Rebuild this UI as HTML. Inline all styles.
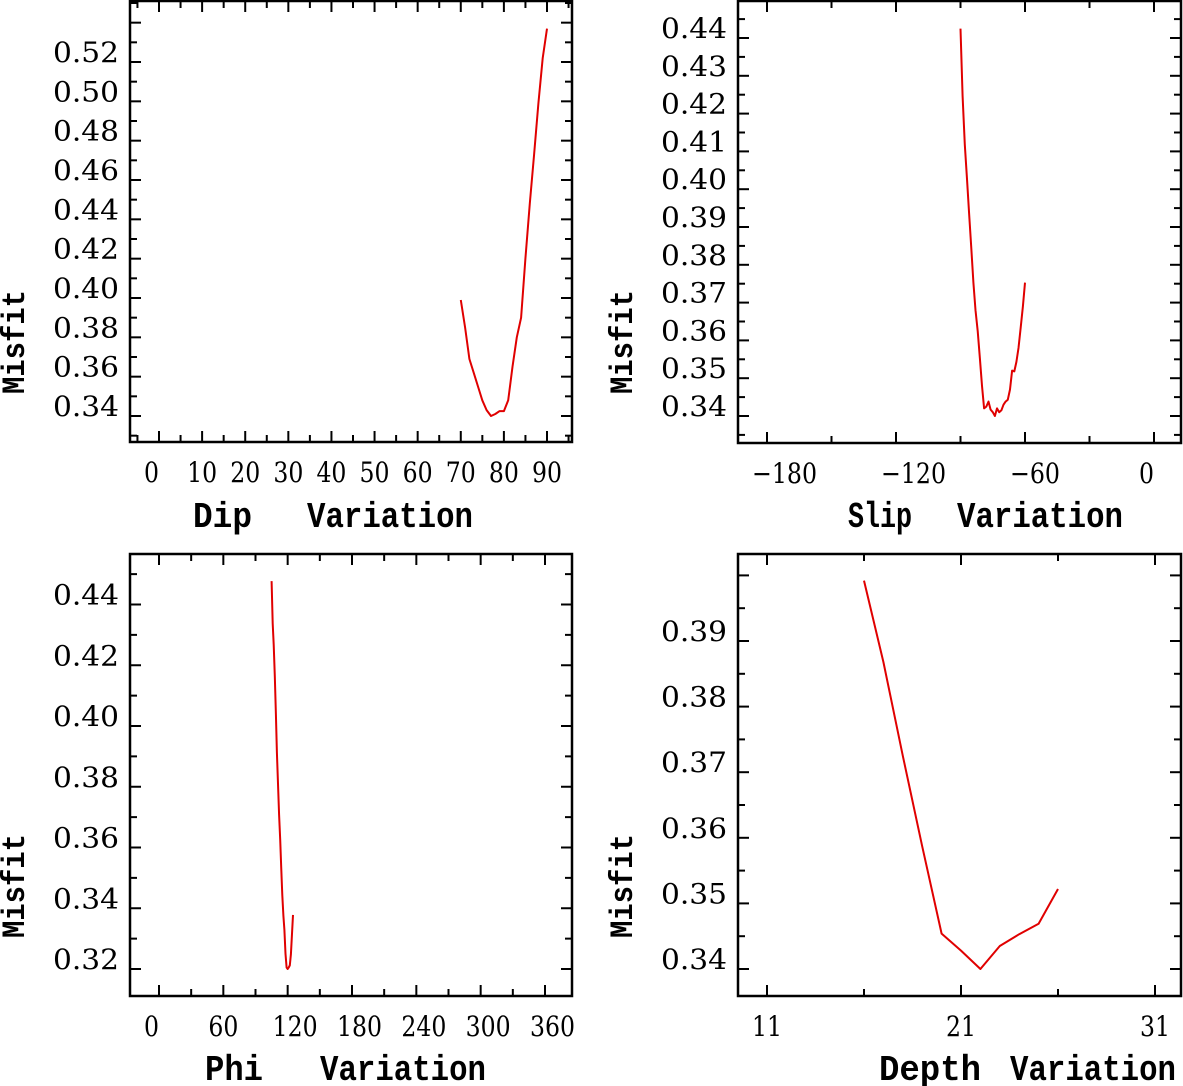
<!DOCTYPE html>
<html><head><meta charset="utf-8"><style>
html,body{margin:0;padding:0;background:#fff;}
svg{display:block;}
.tl{font-family:"DejaVu Serif","Liberation Serif",serif;font-size:28px;fill:#000;}
.ti{font-family:"Liberation Mono","DejaVu Sans Mono",monospace;font-weight:bold;font-size:36px;fill:#000;}
</style></head><body>
<svg id="fig" width="1183" height="1086" viewBox="0 0 1183 1086" xmlns="http://www.w3.org/2000/svg"></svg>
<script>
// Dip panel data
const dipX = [70,71,72,73,74,75,76,77,78,79,80,81,82,83,84,85,86,87,88,89,90];
const dipY = [0.399,0.385,0.369,0.362,0.355,0.348,0.343,0.340,0.341,0.3425,0.3425,0.348,0.365,0.380,0.390,0.420,0.448,0.473,0.499,0.522,0.537];
const dipXTicks = [0,10,20,30,40,50,60,70,80,90];
const dipYTicks = [0.34,0.36,0.38,0.40,0.42,0.44,0.46,0.48,0.50,0.52];
// Slip panel data
const slipX = [-90,-89,-88,-87,-86,-85,-84,-83,-82,-81,-80,-79,-78,-77,-76,-75,-74,-73,-72,-71,-70,-69,-68,-67,-66,-65,-64,-63,-62,-61,-60];
const slipY = [0.4425,0.4246,0.4118,0.4027,0.3936,0.3844,0.3753,0.368,0.3625,0.3552,0.348,0.342,0.3425,0.3438,0.3417,0.341,0.340,0.342,0.341,0.3415,0.343,0.3438,0.3443,0.347,0.352,0.3518,0.3543,0.358,0.3634,0.369,0.3753];
const slipXTicks = [-180,-120,-60,0];
const slipYTicks = [0.34,0.35,0.36,0.37,0.38,0.39,0.40,0.41,0.42,0.43,0.44];
// Phi panel data
const phiX = [105,106,107,108,109,110,111,112,113,114,115,116,117,118,119,120,121,122,123,124,125];
const phiY = [0.4477,0.4337,0.4268,0.4165,0.4039,0.3913,0.3810,0.3707,0.3626,0.3535,0.3443,0.3375,0.3329,0.325,0.3205,0.320,0.3205,0.3212,0.3248,0.3316,0.3378];
const phiXTicks = [0,60,120,180,240,300,360];
const phiYTicks = [0.32,0.34,0.36,0.38,0.40,0.42,0.44];
// Depth panel data
const depthX = [16,17,18,19,20,21,22,23,24,25,26];
const depthY = [0.3992,0.3868,0.3725,0.3587,0.3454,0.3428,0.340,0.3435,0.3453,0.3469,0.3522];
const depthXTicks = [11,21,31];
const depthYTicks = [0.34,0.35,0.36,0.37,0.38,0.39];

const NS="http://www.w3.org/2000/svg";
const svg=document.getElementById('fig');
function mk(tag,attrs,parent){const e=document.createElementNS(NS,tag);for(const k in attrs)e.setAttribute(k,attrs[k]);(parent||svg).appendChild(e);return e;}

function panel(o){
  const g=mk('g',{});
  
  
  const sx=v=>o.x0px+(v-o.x0v)*(o.x1px-o.x0px)/(o.x1v-o.x0v);
  const sy=v=>o.y0px+(v-o.y0v)*(o.y1px-o.y0px)/(o.y1v-o.y0v);
  const fr=mk('rect',{x:o.L,y:o.T,width:o.R-o.L,height:o.B-o.T,fill:'none',stroke:'#000','stroke-width':2.5},g);
  
  
  const xs=o.xTicks, xstep=xs[1]-xs[0];
  for(let i=-4;i<=xs.length*2+4;i++){
    const v=xs[0]+i*xstep/2, px=sx(v); if(px<=o.L+1||px>=o.R-1)continue;
    const len=(i%2===0)?11:7;
    mk('line',{x1:px,y1:o.B,x2:px,y2:o.B-len,stroke:'#000','stroke-width':2},g);
    mk('line',{x1:px,y1:o.T,x2:px,y2:o.T+len,stroke:'#000','stroke-width':2},g);
  }
  xs.forEach(v=>{
    const s=(v<0?'\u2212'+(-v):String(v));
    const w=String(Math.abs(v)).length*15+(v<0?20:0);
    const t=mk('text',{x:sx(v)-15,y:o.B+40,'text-anchor':'start',class:'tl',textLength:w,lengthAdjust:'spacingAndGlyphs'},g);
    t.textContent=s;
    
    
  });
  const ys=o.yTicks, ystep=ys[1]-ys[0];
  for(let i=-2;i<ys.length*2+4;i++){
    const v=ys[0]+i*ystep/2, py=sy(v); if(py<=o.T+1||py>=o.B-1)continue;
    const len=(i%2===0)?11:7;
    mk('line',{x1:o.L,y1:py,x2:o.L+len,y2:py,stroke:'#000','stroke-width':2},g);
    mk('line',{x1:o.R,y1:py,x2:o.R-len,y2:py,stroke:'#000','stroke-width':2},g);
  }
  ys.forEach(v=>{
    const t=mk('text',{x:o.L-11,y:sy(v),'text-anchor':'end',class:'tl',textLength:66,lengthAdjust:'spacingAndGlyphs'},g);
    t.textContent=v.toFixed(2);
    
    
  });
  const yt=mk('text',{x:0,y:0,'text-anchor':'middle',class:'ti',style:'font-size:32px',transform:`translate(${o.ytx},${o.yty}) rotate(-90)`,textLength:104,lengthAdjust:'spacingAndGlyphs'},g);
  yt.textContent='Misfit';
  
  
  const w1=mk('text',{x:o.w1x,y:o.tb,class:'ti',textLength:o.w1w,lengthAdjust:'spacingAndGlyphs'},g);
  w1.textContent=o.word;
  
  
  const w2=mk('text',{x:o.w2x,y:o.tb,class:'ti',textLength:166,lengthAdjust:'spacingAndGlyphs'},g);
  w2.textContent='Variation';
  
  
  const pts=o.xs.map((x,i)=>sx(x).toFixed(1)+','+sy(o.ys[i]).toFixed(1)).join(' ');
  const pl=mk('polyline',{points:pts,fill:'none',stroke:'#e00000','stroke-width':2,'stroke-linejoin':'round'},g);
  
  
}

panel({name:'dip',L:130,T:1,R:572,B:442,x0v:0,x0px:159,x1v:90,x1px:547,y0v:0.34,y0px:416,y1v:0.52,y1px:62,
  xTicks:dipXTicks,yTicks:dipYTicks,xs:dipX,ys:dipY,ytx:24,yty:342,word:'Dip',w1x:193,w1w:59,w2x:307,tb:527});
panel({name:'slip',L:738,T:1,R:1181,B:443,x0v:-180,x0px:767,x1v:0,x1px:1154,y0v:0.34,y0px:416,y1v:0.44,y1px:38,
  xTicks:slipXTicks,yTicks:slipYTicks,xs:slipX,ys:slipY,ytx:632,yty:342,word:'Slip',w1x:848,w1w:64,w2x:957,tb:527});
panel({name:'phi',L:130,T:554,R:572,B:996,x0v:0,x0px:159,x1v:360,x1px:545,y0v:0.32,y0px:969,y1v:0.44,y1px:604.5,
  xTicks:phiXTicks,yTicks:phiYTicks,xs:phiX,ys:phiY,ytx:24,yty:886,word:'Phi',w1x:205,w1w:58,w2x:320,tb:1080});
panel({name:'depth',L:738,T:554,R:1181,B:996,x0v:11,x0px:767,x1v:31,x1px:1155,y0v:0.34,y0px:969,y1v:0.39,y1px:641,
  xTicks:depthXTicks,yTicks:depthYTicks,xs:depthX,ys:depthY,ytx:632,yty:886,word:'Depth',w1x:879,w1w:102,w2x:1010,tb:1080});
</script>
</body></html>
